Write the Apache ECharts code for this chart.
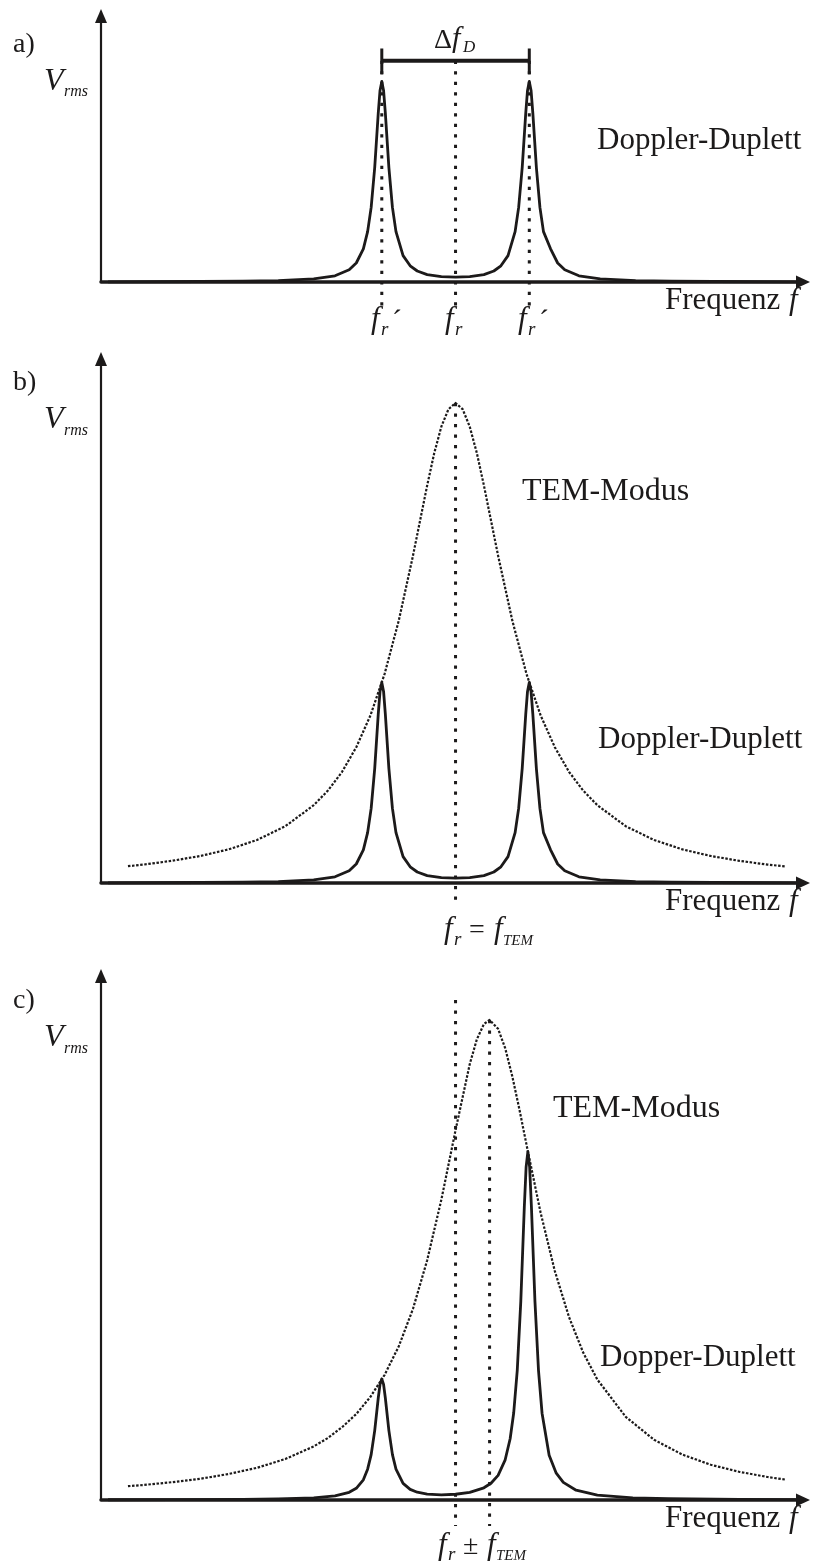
<!DOCTYPE html>
<html><head><meta charset="utf-8">
<script src="https://cdn.jsdelivr.net/npm/echarts@6/dist/echarts.min.js"></script>
<style>html,body{margin:0;padding:0;background:#fff}#c{width:817px;height:1566px}</style>
</head><body><div id="c"></div>
<script>
// ---- data (frequency axis 0..99 arbitrary units, amplitude arbitrary units) ----
const fR = 50;                       // resonance frequency f_r
const fDoppler = [39.6, 60.4];       // Doppler-shifted lines f_r'
const fTEMc = 54.8;                  // TEM frequency in panel c

// Doppler duplet (panels a and b)
const dopplerAB = [[1,0.1],[14,0.26],[20,0.4],[25,0.7],[30,1.55],[33,3.1],[35,6.1],[36,9.5],[37,16.6],[37.6,25.2],[38.1,37.3],[38.6,57.2],[39.1,84.4],[39.35,95.8],[39.6,100.3],[39.85,95.8],[40.1,84.4],[40.6,57.2],[41.1,37.3],[41.6,25.2],[42.6,13.2],[43.6,8.1],[44.6,5.5],[46,3.7],[48,2.7],[50,2.4],[52,2.7],[54,3.7],[55.4,5.5],[56.4,8.1],[57.4,13.2],[58.4,25.2],[58.9,37.3],[59.4,57.2],[59.9,84.4],[60.15,95.8],[60.4,100.3],[60.65,95.8],[60.9,84.4],[61.4,57.2],[61.9,37.3],[62.4,25.2],[63.4,16.6],[64.4,9.5],[65.4,6.1],[67.4,3.1],[70.4,1.55],[75.4,0.7],[80.4,0.4],[86.4,0.26],[98,0.1]];

// TEM mode, panel b (centred at f_r)
const temB = [[3.8,8.4],[6,9.2],[10,11.1],[14,13.5],[18,16.8],[22,21.5],[26,28.4],[30,38.9],[32,46.2],[34,55.6],[36,67.9],[38,83.8],[40,104.6],[42,131.3],[44,163.7],[46,198.8],[47,215.0],[48,228.2],[49,236.9],[50,240],[51,236.9],[52,228.2],[53,215.0],[54,198.8],[56,163.7],[58,131.3],[60,104.6],[62,83.8],[64,67.9],[66,55.6],[68,46.2],[70,38.9],[74,28.4],[78,21.5],[82,16.8],[86,13.5],[90,11.1],[94,9.2],[96.5,8.3]];

// TEM mode, panel c (shifted)
const temC = [[3.8,6.9],[6,7.5],[10,8.9],[14,10.6],[18,13.0],[22,16.1],[26,20.5],[30,26.8],[32,31.0],[34,36.4],[36,43.0],[38,51.6],[40,62.6],[42,76.9],[44,95.6],[46,119.9],[48,150.2],[50,184.9],[52,217.9],[53,230.3],[54,238.0],[54.8,240],[56,235.6],[57,225.9],[58,211.9],[59,195.4],[60,177.8],[62,143.6],[64,114.5],[66,91.5],[68,73.7],[70,60.2],[74,41.6],[78,30.1],[82,22.7],[86,17.6],[90,14.1],[94,11.5],[96.5,10.2]];

// Doppler duplet, panel c (asymmetric)
const dopplerC = [[1,0.12],[10,0.18],[20,0.34],[25,0.54],[30,1.08],[33,2.05],[35,3.83],[36,5.85],[37,10.1],[37.6,15.4],[38.1,22.7],[38.6,34.7],[39.1,51.0],[39.35,57.8],[39.6,60.5],[39.85,57.8],[40.1,51.0],[40.6,34.7],[41.1,22.7],[41.6,15.4],[42.6,8.3],[43.6,5.3],[44.6,3.9],[46,2.97],[48,2.6],[50,2.87],[52,3.82],[54,6.1],[55,8.35],[56,12.3],[57,20.1],[57.7,30.6],[58.2,43.5],[58.7,64.7],[59.2,99.2],[59.7,146.6],[59.95,166.4],[60.2,174.2],[60.45,166.4],[60.7,146.6],[61.2,99.2],[61.7,64.7],[62.2,43.4],[63.2,22.4],[64.2,13.4],[65.2,8.8],[67,4.9],[70,2.43],[75,1.1],[80,0.63],[90,0.3],[98,0.19]];

// ---- chart ----
const INK = '#1c1a1a';
const FONT = '"Liberation Serif","Times New Roman",serif';
const chart = echarts.init(document.getElementById('c'), null, {renderer:'canvas'});

const grids = [
  {left:101, width:702, top:16, height:266},
  {left:101, width:702, top:359, height:524},
  {left:101, width:702, top:976, height:524}
];
const yMax = [133, 262, 262];

function xAx(i){return {gridIndex:i,type:'value',min:0,max:99,
  axisLine:{show:true,onZero:false,symbol:['none','triangle'],symbolSize:[13,14],lineStyle:{color:INK,width:3.5}},
  axisTick:{show:false},axisLabel:{show:false},splitLine:{show:false}};}
function yAx(i){return {gridIndex:i,type:'value',min:0,max:yMax[i],
  axisLine:{show:true,onZero:false,symbol:['none','triangle'],symbolSize:[12,14],lineStyle:{color:INK,width:2.2}},
  axisTick:{show:false},axisLabel:{show:false},splitLine:{show:false}};}

function curve(i, data, dotted, width, z){
  return {type:'line',xAxisIndex:i,yAxisIndex:i,data:data,symbol:'none',silent:true,smooth:false,clip:false,z:z||2,
    lineStyle:{color:INK,width:width,type:dotted?[2.5,1.6]:'solid',cap:'butt',join:'round'}};
}
function vline(i, x, y0, y1){
  return {type:'line',xAxisIndex:i,yAxisIndex:i,data:[[x,y0],[x,y1]],symbol:'none',silent:true,clip:false,z:1,
    lineStyle:{color:INK,width:3,type:[3.2,7.3],cap:'butt'}};
}
function seg(i, a, b, w){
  return {type:'line',xAxisIndex:i,yAxisIndex:i,data:[a,b],symbol:'none',silent:true,clip:false,z:3,
    lineStyle:{color:INK,width:w,type:'solid',cap:'butt'}};
}

const series = [];
// panel a
fDoppler.concat([fR]).forEach(x=>series.push(vline(0,x,110.6,-14)));
series.push(curve(0,dopplerAB,false,2.8,3));
series.push(seg(0,[fDoppler[0],110.6],[fDoppler[1],110.6],4));
fDoppler.forEach(x=>series.push(seg(0,[x,116.8],[x,104],3)));
// panel b
series.push(vline(1,fR,240,-11));
series.push(curve(1,temB,true,2.2,2));
series.push(curve(1,dopplerAB,false,2.8,3));
// panel c
series.push(vline(2,fR,250,-13));
series.push(vline(2,fTEMc,240,-13));
series.push(curve(2,temC,true,2.2,2));
series.push(curve(2,dopplerC,false,2.8,3));

function T(str, x, base, size, italic){
  return {type:'text',x:x,y:base-0.34*size,silent:true,z:10,
    style:{text:str,font:(italic?'italic ':'')+size+'px '+FONT,fill:INK,align:'left',verticalAlign:'middle'}};
}
const g = [];
// panel a texts
g.push(T('a)',13,54,28,false));
g.push(T('V',44,92,32,true)); g.push(T('rms',64,97,16,true));
g.push(T('\u0394',434,50,28,false)); g.push(T('f',452,49,30,true)); g.push(T('D',463,53,17,true));
g.push(T('Doppler-Duplett',597,151,31,false));
g.push(T('Frequenz',665,311,31,false)); g.push(T('f',789,311,31,true));
[[371,true],[445,false],[518,true]].forEach(([x,p])=>{
  g.push(T('f',x,330,31,true)); g.push(T('r',x+10,336,19,true));
  if(p) g.push(T('\u00B4',x+21,332,30,false));
});
// panel b texts
g.push(T('b)',13,392,28,false));
g.push(T('V',44,430,32,true)); g.push(T('rms',64,436,16,true));
g.push(T('TEM-Modus',522,502,32,false));
g.push(T('Doppler-Duplett',598,750,31,false));
g.push(T('Frequenz',665,912,31,false)); g.push(T('f',789,912,31,true));
g.push(T('f',444,940,31,true)); g.push(T('r',454,946,19,true));
g.push(T('=',469,940,28,false));
g.push(T('f',494,940,31,true)); g.push(T('TEM',503,946,15,true));
// panel c texts
g.push(T('c)',13,1010,28,false));
g.push(T('V',44,1048,32,true)); g.push(T('rms',64,1054,16,true));
g.push(T('TEM-Modus',553,1119,32,false));
g.push(T('Dopper-Duplett',600,1368,31,false));
g.push(T('Frequenz',665,1529,31,false)); g.push(T('f',789,1529,31,true));
g.push(T('f',438,1556,31,true)); g.push(T('r',448,1561,19,true));
g.push(T('\u00B1',463,1556,28,false));
g.push(T('f',487,1556,31,true)); g.push(T('TEM',496,1561,15,true));

chart.setOption({
  animation:false,
  backgroundColor:'#ffffff',
  grid:grids,
  xAxis:[xAx(0),xAx(1),xAx(2)],
  yAxis:[yAx(0),yAx(1),yAx(2)],
  series:series,
  graphic:g
});
</script></body></html>
